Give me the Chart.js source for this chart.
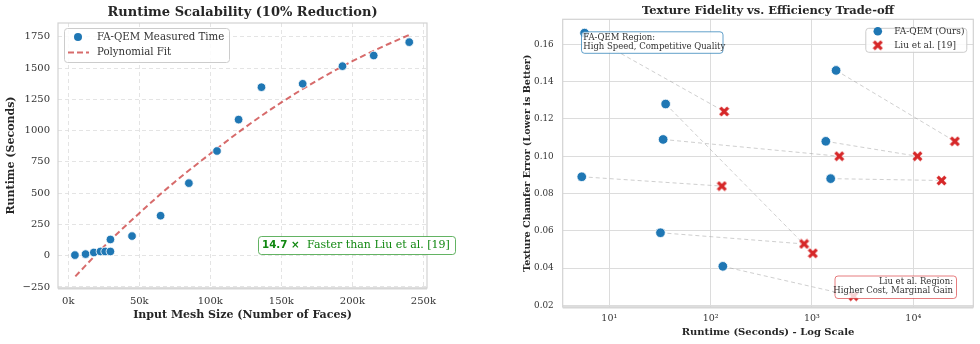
<!DOCTYPE html>
<html>
<head>
<meta charset="utf-8">
<script src="https://cdn.jsdelivr.net/npm/chart.js@4.4.0/dist/chart.umd.min.js"></script>
<style>
  body { margin: 0; background: #fff; width: 980px; height: 344px; position: relative; overflow: hidden; }
  .panel { position: absolute; top: 0; width: 490px; height: 344px; }
  #leftPanel { left: 0; }
  #rightPanel { left: 490px; }
</style>
</head>
<body>
<div class="panel" id="leftPanel"><canvas id="scalabilityChart"></canvas></div>
<div class="panel" id="rightPanel"><canvas id="tradeoffChart"></canvas></div>
<script>
// ---- left: runtime scalability ----
const meshFaces = [4700, 12200, 18000, 22700, 26000, 29700, 29700, 44900, 65000, 84900, 104700, 119900, 136000, 165000, 193000, 215000, 240000];
const measuredRuntime = [5, 13, 26, 34, 34, 34, 130, 157, 320, 580, 837, 1088, 1347, 1374, 1515, 1600, 1707];
const fitFaces = [5000, 25000, 50000, 75000, 100000, 125000, 150000, 175000, 200000, 225000, 240000];
const fitRuntime = [-165, 72, 340, 590, 815, 1030, 1225, 1400, 1555, 1690, 1765];
const faceTicks = [0, 50000, 100000, 150000, 200000, 250000];
const runtimeTicks = [-250, 0, 250, 500, 750, 1000, 1250, 1500, 1750];

// ---- right: fidelity vs efficiency ----
const oursRuntime = [5.7, 36, 34, 1730, 1370, 5.35, 1530, 32, 132];
const oursError = [0.166, 0.128, 0.109, 0.146, 0.108, 0.089, 0.088, 0.059, 0.041];
const liuRuntime = [136, 1020, 1860, 25700, 11000, 129, 19000, 836, 2570];
const liuError = [0.124, 0.048, 0.100, 0.108, 0.100, 0.084, 0.087, 0.053, 0.025];
const logTicks = [10, 100, 1000, 10000];
const logTickLabels = ['10¹', '10²', '10³', '10⁴'];
const errorTicks = [0.02, 0.04, 0.06, 0.08, 0.10, 0.12, 0.14, 0.16];

const serif = "'DejaVu Serif', serif";
const blue = '#1f77b4';
const red = '#d62728';
Chart.defaults.font.family = serif;
Chart.defaults.color = '#333';
Chart.defaults.animation = false;

function xMarker(size) {
  const c = document.createElement('canvas');
  c.width = c.height = size;
  const g = c.getContext('2d');
  const m = 1.6, e = size - 1.6;
  g.beginPath();
  g.moveTo(m, m); g.lineTo(e, e);
  g.moveTo(e, m); g.lineTo(m, e);
  g.strokeStyle = '#fff'; g.lineWidth = 4.2; g.stroke();
  g.strokeStyle = red; g.lineWidth = 3.2; g.stroke();
  return c;
}
const redX = xMarker(11);

function frame(chart) {
  const { ctx, chartArea: a } = chart;
  ctx.save();
  ctx.strokeStyle = '#d2d2d2';
  ctx.lineWidth = 1.2;
  ctx.strokeRect(a.left, a.top, a.right - a.left, a.bottom - a.top);
  ctx.lineWidth = 2;
  ctx.strokeStyle = '#d6d6d6';
  ctx.beginPath(); ctx.moveTo(a.left, a.bottom + 0.5); ctx.lineTo(a.right, a.bottom + 0.5); ctx.stroke();
  ctx.restore();
}

function box(ctx, x, y, w, h, stroke, fill) {
  ctx.beginPath();
  ctx.roundRect(x + 0.5, y + 0.5, w, h, 3);
  ctx.fillStyle = fill;
  ctx.fill();
  ctx.strokeStyle = stroke;
  ctx.lineWidth = 1;
  ctx.stroke();
}

function dot(ctx, x, y, r) {
  ctx.beginPath();
  ctx.arc(x, y, r, 0, Math.PI * 2);
  ctx.fillStyle = blue;
  ctx.fill();
}

const leftDecor = {
  id: 'leftDecor',
  beforeDatasetsDraw(chart) { frame(chart); },
  afterDatasetsDraw(chart) {
    const { ctx, chartArea: a } = chart;
    ctx.save();
    // legend
    box(ctx, a.left + 6, a.top + 5, 165, 34, '#cccccc', 'rgba(255,255,255,0.85)');
    dot(ctx, a.left + 20, a.top + 14, 4);
    ctx.strokeStyle = 'rgba(205,70,70,0.8)';
    ctx.lineWidth = 2;
    ctx.setLineDash([6, 3]);
    ctx.beginPath(); ctx.moveTo(a.left + 10, a.top + 29.5); ctx.lineTo(a.left + 31, a.top + 29.5); ctx.stroke();
    ctx.setLineDash([]);
    ctx.fillStyle = '#333';
    ctx.font = '10.2px ' + serif;
    ctx.textBaseline = 'middle';
    ctx.fillText('FA-QEM Measured Time', a.left + 39, a.top + 14);
    ctx.fillText('Polynomial Fit', a.left + 39, a.top + 29.5);

    // speed-up note
    const bx = a.left + 200, by = a.bottom - 52;
    box(ctx, bx, by, 197, 18, 'rgba(60,160,60,0.8)', '#fff');
    ctx.fillStyle = '#118811';
    ctx.font = "bold 10.3px 'DejaVu Sans', sans-serif";
    ctx.fillText('14.7 ×', bx + 4, by + 9.5);
    ctx.font = '11px ' + serif;
    ctx.fillText('Faster than Liu et al. [19]', bx + 49, by + 9.5);
    ctx.restore();
  }
};

new Chart(document.getElementById('scalabilityChart'), {
  type: 'scatter',
  data: {
    datasets: [{
      label: 'FA-QEM Measured Time',
      data: meshFaces.map((x, i) => ({ x, y: measuredRuntime[i] })),
      backgroundColor: blue,
      borderColor: '#fff',
      borderWidth: 0.8,
      pointRadius: 4.3
    }, {
      label: 'Polynomial Fit',
      data: fitFaces.map((x, i) => ({ x, y: fitRuntime[i] })),
      showLine: true,
      borderColor: 'rgba(205,70,70,0.8)',
      borderWidth: 2,
      borderDash: [6, 3.5],
      pointRadius: 0,
      cubicInterpolationMode: 'monotone'
    }]
  },
  options: {
    responsive: true,
    maintainAspectRatio: false,
    layout: { padding: { left: 0, right: 63, top: 0, bottom: 0 } },
    plugins: {
      legend: { display: false },
      tooltip: { enabled: false },
      title: {
        display: true,
        fullSize: false,
        text: 'Runtime Scalability (10% Reduction)',
        color: '#262626',
        font: { size: 13, weight: 'bold' },
        padding: { top: 5, bottom: 2.4 }
      }
    },
    scales: {
      x: {
        type: 'linear',
        min: -7200,
        max: 252500,
        afterFit: s => { s.height = 56; },
        afterBuildTicks: s => { s.ticks = faceTicks.map(v => ({ value: v })); },
        ticks: { padding: 7, font: { size: 10 }, callback: v => (v / 1000) + 'k' },
        grid: { color: '#dddddd', lineWidth: 0.8, drawTicks: false },
        border: { display: false, dash: [4, 3] },
        title: {
          display: true,
          text: 'Input Mesh Size (Number of Faces)',
          color: '#262626',
          font: { size: 11, weight: 'bold' },
          padding: { top: 0, bottom: 22 }
        }
      },
      y: {
        min: -258,
        max: 1860,
        afterFit: s => { s.width = 58; },
        afterBuildTicks: s => { s.ticks = runtimeTicks.map(v => ({ value: v })); },
        ticks: { padding: 8, font: { size: 10 }, callback: v => v < 0 ? '\u2212' + Math.abs(v) : String(v) },
        grid: { color: '#dddddd', lineWidth: 0.8, drawTicks: false },
        border: { display: false, dash: [4, 3] },
        title: {
          display: true,
          text: 'Runtime (Seconds)',
          color: '#262626',
          font: { size: 11, weight: 'bold' },
          padding: { top: 5, bottom: 0 }
        }
      }
    }
  },
  plugins: [leftDecor]
});

const rightDecor = {
  id: 'rightDecor',
  beforeDatasetsDraw(chart) { frame(chart); },
  afterDatasetsDraw(chart) {
    const { ctx, chartArea: a } = chart;
    ctx.save();
    ctx.textBaseline = 'middle';

    // legend
    const lx = a.right - 108, ly = a.top + 8.5;
    box(ctx, lx, ly, 101, 24, '#cccccc', 'rgba(255,255,255,0.85)');
    dot(ctx, lx + 12.5, ly + 3.5, 4.3);
    ctx.drawImage(redX, lx + 7, ly + 12);
    ctx.fillStyle = '#333';
    ctx.font = '9px ' + serif;
    ctx.fillText('FA-QEM (Ours)', lx + 29, ly + 3.5);
    ctx.fillText('Liu et al. [19]', lx + 29, ly + 17.5);

    // region notes
    const fx = a.left + 18.3, fy = a.top + 12;
    box(ctx, fx, fy, 141.5, 21.5, 'rgba(31,119,180,0.7)', 'rgba(255,255,255,0.8)');
    ctx.fillStyle = '#333';
    ctx.font = '8.5px ' + serif;
    ctx.textAlign = 'left';
    ctx.fillText('FA-QEM Region:', fx + 2.3, fy + 6);
    ctx.fillText('High Speed, Competitive Quality', fx + 2.3, fy + 15.5);

    const rx = a.right - 17.3 - 121.5, ry = a.bottom - 9 - 22.5;
    box(ctx, rx, ry, 121.5, 22.5, 'rgba(214,39,40,0.6)', 'rgba(255,255,255,0.8)');
    ctx.fillStyle = '#333';
    ctx.textAlign = 'right';
    ctx.fillText('Liu et al. Region:', rx + 118.5, ry + 6.5);
    ctx.fillText('Higher Cost, Marginal Gain', rx + 118.5, ry + 15.5);
    ctx.restore();
  }
};

new Chart(document.getElementById('tradeoffChart'), {
  type: 'scatter',
  data: {
    datasets: [{
      label: 'FA-QEM (Ours)',
      data: oursRuntime.map((x, i) => ({ x, y: oursError[i] })),
      backgroundColor: blue,
      borderColor: '#fff',
      borderWidth: 0.8,
      pointRadius: 4.8
    }, {
      label: 'Liu et al. [19]',
      data: liuRuntime.map((x, i) => ({ x, y: liuError[i] })),
      pointStyle: redX
    }, {
      label: 'pairs',
      data: oursRuntime.flatMap((x, i) => [
        { x, y: oursError[i] },
        { x: liuRuntime[i], y: liuError[i] },
        { x: liuRuntime[i], y: null }
      ]),
      showLine: true,
      spanGaps: false,
      pointRadius: 0,
      borderColor: 'rgba(160,160,160,0.5)',
      borderWidth: 1,
      borderDash: [4, 3]
    }]
  },
  options: {
    responsive: true,
    maintainAspectRatio: false,
    layout: { padding: { left: 0, right: 6.7, top: 0, bottom: 0 } },
    plugins: {
      legend: { display: false },
      tooltip: { enabled: false },
      title: {
        display: true,
        fullSize: false,
        text: 'Texture Fidelity vs. Efficiency Trade-off',
        color: '#262626',
        font: { size: 11.5, weight: 'bold' },
        padding: { top: 4, bottom: 1.5 }
      }
    },
    scales: {
      x: {
        type: 'logarithmic',
        min: 3.47,
        max: 39100,
        afterFit: s => { s.height = 37; },
        afterBuildTicks: s => { s.ticks = logTicks.map(v => ({ value: v })); },
        ticks: { padding: 6, font: { size: 9.5 }, callback: v => logTickLabels[logTicks.indexOf(v)] },
        grid: { color: '#dcdcdc', lineWidth: 1, drawTicks: false },
        border: { display: false },
        title: {
          display: true,
          text: 'Runtime (Seconds) - Log Scale',
          color: '#262626',
          font: { size: 10, weight: 'bold' },
          padding: { top: 0, bottom: 6 }
        }
      },
      y: {
        min: 0.0192,
        max: 0.1734,
        afterFit: s => { s.width = 72.7; },
        afterBuildTicks: s => { s.ticks = errorTicks.map(v => ({ value: v })); },
        ticks: { padding: 9, font: { size: 8.8 }, callback: v => v.toFixed(2) },
        grid: { color: '#dcdcdc', lineWidth: 1, drawTicks: false },
        border: { display: false },
        title: {
          display: true,
          text: 'Texture Chamfer Error (Lower is Better)',
          color: '#262626',
          font: { size: 9.6, weight: 'bold' },
          padding: { top: 32, bottom: 0 }
        }
      }
    }
  },
  plugins: [rightDecor]
});
</script>
</body>
</html>
